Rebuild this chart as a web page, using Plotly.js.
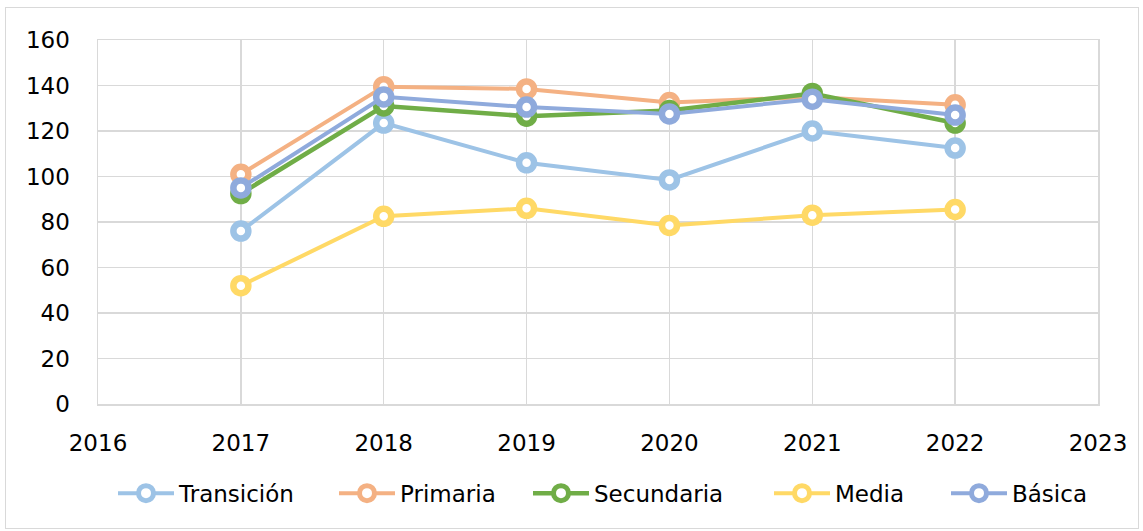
<!DOCTYPE html>
<html>
<head>
<meta charset="utf-8">
<script src="https://cdn.plot.ly/plotly-3.0.1.min.js"></script>
<style>
html,body{margin:0;padding:0;background:#fff;}
#wrap{position:relative;width:1143px;height:531px;}
#chart{position:absolute;left:0;top:0;width:1143px;height:531px;}
#frame{position:absolute;left:5px;top:7px;width:1132px;height:520px;border:1px solid #d9d9d9;pointer-events:none;}
</style>
</head>
<body>
<div id="wrap"><div id="chart"></div><div id="frame"></div></div>
<script>
const years = [2017, 2018, 2019, 2020, 2021, 2022];
const seriesNames = ["Transición", "Primaria", "Secundaria", "Media", "Básica"];
const transicion = [76, 123.5, 106, 98.5, 120, 112.5];
const primaria = [101, 139.5, 138.5, 132.5, 135, 131.5];
const secundaria = [92.5, 131, 126.5, 129, 136.5, 123.5];
const media = [52, 82.5, 86, 78.5, 83, 85.5];
const basica = [95, 135, 130.5, 127.5, 134, 127];
const xTicks = [2016, 2017, 2018, 2019, 2020, 2021, 2022, 2023];
const yTicks = [0, 20, 40, 60, 80, 100, 120, 140, 160];

const colors = ["#9DC3E6", "#F4B183", "#70AD47", "#FFD966", "#8FAADC"];
const lineWidths = [4, 4, 4.5, 4, 4];
const allValues = [transicion, primaria, secundaria, media, basica];
const legendIds = ["legend", "legend2", "legend3", "legend4", "legend5"];
const legendStarts = [113, 334, 528, 769, 946];

const traces = allValues.map((vals, i) => ({
  type: "scatter",
  mode: "lines+markers",
  name: seriesNames[i],
  legend: legendIds[i],
  x: years,
  y: vals,
  line: {color: colors[i], width: lineWidths[i]},
  marker: {symbol: "circle", size: 15, color: "#ffffff", line: {color: colors[i], width: 6.5}}
}));

const font = "'DejaVu Sans', 'Liberation Sans', sans-serif";

const layout = {
  width: 1143,
  height: 531,
  margin: {l: 98, r: 45, t: 40, b: 127},
  paper_bgcolor: "#ffffff",
  plot_bgcolor: "#ffffff",
  showlegend: true,
  font: {family: font, size: 23, color: "#000000"},
  xaxis: {
    range: [2016, 2023],
    tickvals: xTicks,
    ticktext: xTicks.map(String),
    showgrid: true,
    gridcolor: "#d9d9d9",
    gridwidth: 1.5,
    zeroline: false,
    showline: true,
    linecolor: "#d9d9d9",
    linewidth: 1.5,
    mirror: true,
    ticks: "outside",
    ticklen: 18,
    tickcolor: "rgba(0,0,0,0)",
    tickfont: {family: font, size: 23, color: "#000"}
  },
  yaxis: {
    range: [0, 160],
    tickvals: yTicks,
    showgrid: true,
    gridcolor: "#d9d9d9",
    gridwidth: 1.5,
    zeroline: false,
    showline: true,
    linecolor: "#d9d9d9",
    linewidth: 1.5,
    mirror: true,
    ticks: "outside",
    ticklen: 22,
    tickcolor: "rgba(0,0,0,0)",
    tickfont: {family: font, size: 23, color: "#000"}
  }
};

legendIds.forEach((id, i) => {
  layout[id] = {
    orientation: "h",
    x: (legendStarts[i] - 98) / 1000,
    xanchor: "left",
    y: -0.245,
    yanchor: "middle",
    itemwidth: 56,
    font: {family: font, size: 23, color: "#000"},
    bgcolor: "rgba(0,0,0,0)"
  };
});

Plotly.newPlot("chart", traces, layout, {displayModeBar: false, staticPlot: true});
</script>
</body>
</html>
